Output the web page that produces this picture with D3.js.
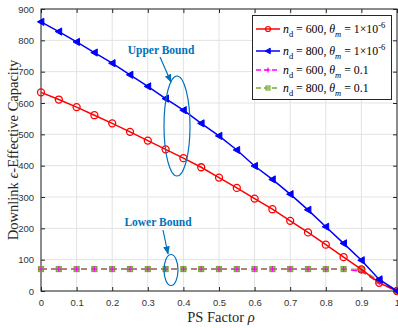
<!DOCTYPE html>
<html>
<head>
<meta charset="utf-8">
<script src="https://cdn.jsdelivr.net/npm/d3@7"></script>
<style>
  body { margin: 0; background: #fff; }
  svg { display: block; }
  .tick text { font-family: "Liberation Sans", Arial, sans-serif; font-size: 9.5px; fill: #333; }
</style>
</head>
<body>
<div id="chart"></div>
<script>
// PS factor values
var rho = [0, 0.05, 0.1, 0.15, 0.2, 0.25, 0.3, 0.35, 0.4, 0.45, 0.5, 0.55, 0.6, 0.65, 0.7, 0.75, 0.8, 0.85, 0.9, 0.95, 1];

// upper bound curves (theta = 1e-6)
var upper600 = [634, 611, 587, 561, 535, 508, 480, 452, 424, 395, 362, 329, 295, 261, 224, 187, 148, 108, 69, 26, 0];
var upper800 = [859, 828, 795, 761, 727, 690, 653, 614, 577, 535, 495, 450, 399, 356, 309, 259, 205, 152, 98, 37, 0];

// lower bound curves (theta = 0.1)
var lower600 = [70, 70, 70, 70, 70, 70, 70, 70, 70, 70, 70, 70, 70, 70, 70, 70, 70, 70, 63, 26, 0];
var lower800 = [70, 70, 70, 70, 70, 70, 70, 70, 70, 70, 70, 70, 70, 70, 70, 70, 70, 70, 69, 33, 0];

var xTicks = [0, 0.1, 0.2, 0.3, 0.4, 0.5, 0.6, 0.7, 0.8, 0.9, 1];
var yTicks = [0, 100, 200, 300, 400, 500, 600, 700, 800, 900];

var width = 398, height = 328;
var margin = {top: 9, right: 1, bottom: 37, left: 41};
var w = width - margin.left - margin.right;
var h = height - margin.top - margin.bottom;

var svg = d3.select("#chart").append("svg")
  .attr("width", width)
  .attr("height", height);

var x = d3.scaleLinear().domain([0, 1]).range([margin.left, margin.left + w]);
var y = d3.scaleLinear().domain([0, 900]).range([margin.top + h, margin.top]);

//grid
svg.append("g").selectAll("line").data(xTicks).enter().append("line")
  .attr("x1", d => x(d)).attr("x2", d => x(d))
  .attr("y1", y(0)).attr("y2", y(900))
  .attr("stroke", "#e3e3e3").attr("stroke-width", 1);
svg.append("g").selectAll("line").data(yTicks).enter().append("line")
  .attr("x1", x(0)).attr("x2", x(1))
  .attr("y1", d => y(d)).attr("y2", d => y(d))
  .attr("stroke", "#e3e3e3").attr("stroke-width", 1);

//axes (ticks inward, box on)
svg.append("g")
  .attr("transform", `translate(0,${y(0)})`)
  .call(d3.axisBottom(x).tickValues(xTicks).tickSize(-4).tickPadding(8).tickFormat(d3.format("")))
  .call(g => g.select(".domain").remove());
svg.append("g")
  .attr("transform", `translate(0,${y(900)})`)
  .call(d3.axisTop(x).tickValues(xTicks).tickSize(-4).tickFormat(""))
  .call(g => g.select(".domain").remove());
svg.append("g")
  .attr("transform", `translate(${x(0)},0)`)
  .call(d3.axisLeft(y).tickValues(yTicks).tickSize(-4).tickPadding(7))
  .call(g => g.select(".domain").remove());
svg.append("g")
  .attr("transform", `translate(${x(1)},0)`)
  .call(d3.axisRight(y).tickValues(yTicks).tickSize(-4).tickFormat(""))
  .call(g => g.select(".domain").remove());
svg.selectAll(".tick line").attr("stroke", "#262626");

svg.append("rect")
  .attr("x", x(0)).attr("y", y(900))
  .attr("width", x(1) - x(0)).attr("height", y(0) - y(900))
  .attr("fill", "none").attr("stroke", "#262626").attr("stroke-width", 1);

var line = d3.line().x((d, i) => x(rho[i])).y(d => y(d));

function trianglePath(cx, cy, s) {
  return `M${cx - s},${cy} L${cx + s * 0.8},${cy - s} L${cx + s * 0.8},${cy + s} Z`;
}

//lower bound n_d=600 (magenta, dashed, plus)
svg.append("path").datum(lower600)
  .attr("d", line).attr("fill", "none")
  .attr("stroke", "#ff00ff").attr("stroke-width", 1.5).attr("stroke-dasharray", "6,4");

//lower bound n_d=800 (green, dashed, squares)
svg.append("path").datum(lower800)
  .attr("d", line).attr("fill", "none")
  .attr("stroke", "#77ac30").attr("stroke-width", 1.5).attr("stroke-dasharray", "6,4")
  .attr("stroke-opacity", 0.8);

svg.append("g").selectAll("rect").data(lower800).enter().append("rect")
  .attr("x", (d, i) => x(rho[i]) - 2.5).attr("y", d => y(d) - 2.5)
  .attr("width", 5).attr("height", 5)
  .attr("fill", "#8fbf4a").attr("stroke", "#77ac30").attr("stroke-width", 1.2);

svg.append("g").selectAll("path").data(lower600).enter().append("path")
  .attr("d", (d, i) => `M${x(rho[i]) - 2.5},${y(d)} h5 M${x(rho[i])},${y(d) - 2.5} v5`)
  .attr("stroke", "#ff00ff").attr("stroke-width", 1.2);

//upper bound n_d=600 (red, circles)
svg.append("path").datum(upper600)
  .attr("d", line).attr("fill", "none")
  .attr("stroke", "#ff0000").attr("stroke-width", 1.5);
svg.append("g").selectAll("circle").data(upper600).enter().append("circle")
  .attr("cx", (d, i) => x(rho[i])).attr("cy", d => y(d)).attr("r", 3.5)
  .attr("fill", "none").attr("stroke", "#ff0000").attr("stroke-width", 1.3);

//upper bound n_d=800 (blue, left triangles)
svg.append("path").datum(upper800)
  .attr("d", line).attr("fill", "none")
  .attr("stroke", "#0000ff").attr("stroke-width", 1.5);
svg.append("g").selectAll("path").data(upper800).enter().append("path")
  .attr("d", (d, i) => trianglePath(x(rho[i]), y(d), 3.6))
  .attr("fill", "#0000ff").attr("stroke", "#0000ff").attr("stroke-width", 1);

//annotations
var annBlue = "#0072bd";
svg.append("defs").append("marker")
  .attr("id", "arrow").attr("viewBox", "0 0 10 10")
  .attr("refX", 9).attr("refY", 5)
  .attr("markerWidth", 7).attr("markerHeight", 7)
  .attr("orient", "auto")
  .append("path").attr("d", "M0,1 L10,5 L0,9 Z").attr("fill", annBlue);

svg.append("text")
  .attr("x", 161).attr("y", 54)
  .attr("text-anchor", "middle")
  .style("font-family", "Liberation Serif, Times New Roman, serif")
  .style("font-weight", "bold").style("font-size", "11.5px")
  .attr("fill", annBlue)
  .text("Upper Bound");
svg.append("line")
  .attr("x1", 160).attr("y1", 57).attr("x2", 171).attr("y2", 82)
  .attr("stroke", annBlue).attr("stroke-width", 1.2).attr("marker-end", "url(#arrow)");
svg.append("ellipse")
  .attr("cx", 177).attr("cy", 126).attr("rx", 13).attr("ry", 50)
  .attr("fill", "none").attr("stroke", annBlue).attr("stroke-width", 1.2);

svg.append("text")
  .attr("x", 158).attr("y", 226)
  .attr("text-anchor", "middle")
  .style("font-family", "Liberation Serif, Times New Roman, serif")
  .style("font-weight", "bold").style("font-size", "11.5px")
  .attr("fill", annBlue)
  .text("Lower Bound");
svg.append("line")
  .attr("x1", 163).attr("y1", 230).attr("x2", 168).attr("y2", 254)
  .attr("stroke", annBlue).attr("stroke-width", 1.2).attr("marker-end", "url(#arrow)");
svg.append("ellipse")
  .attr("cx", 171).attr("cy", 270).attr("rx", 7).attr("ry", 15.5)
  .attr("fill", "none").attr("stroke", annBlue).attr("stroke-width", 1.2);

//axis labels
var serif = "Liberation Serif, Times New Roman, serif";
var xl = svg.append("text")
  .attr("x", 221).attr("y", 322)
  .attr("text-anchor", "middle")
  .style("font-family", serif).style("font-size", "14.5px").attr("fill", "#262626");
xl.append("tspan").text("PS Factor ");
xl.append("tspan").style("font-style", "italic").text("ρ");

var yl = svg.append("text")
  .attr("transform", `translate(18,${(y(0) + y(900)) / 2}) rotate(-90)`)
  .attr("text-anchor", "middle")
  .style("font-family", serif).style("font-size", "14.5px").attr("fill", "#262626");
yl.append("tspan").text("Downlink ");
yl.append("tspan").style("font-style", "italic").text("ϵ");
yl.append("tspan").text("-Effective Capacity");

//legend
var legendItems = [
  {nd: "600", th: "1×10", sup: "-6", color: "#ff0000", dash: null, marker: "circle"},
  {nd: "800", th: "1×10", sup: "-6", color: "#0000ff", dash: null, marker: "tri"},
  {nd: "600", th: "0.1", sup: null, color: "#ff00ff", dash: "5,3", marker: "plus"},
  {nd: "800", th: "0.1", sup: null, color: "#77ac30", dash: "5,3", marker: "square"}
];
var legend = svg.append("g");
legend.append("rect")
  .attr("x", 252.5).attr("y", 15.5).attr("width", 139).attr("height", 84)
  .attr("fill", "#fff").attr("stroke", "#262626").attr("stroke-width", 1);

var ly = [29, 51, 70, 88];
legendItems.forEach(function (it, i) {
  var yy = ly[i];
  legend.append("line")
    .attr("x1", 256).attr("x2", 280).attr("y1", yy).attr("y2", yy)
    .attr("stroke", it.color).attr("stroke-width", 1.5)
    .attr("stroke-dasharray", it.dash);
  var mx = 268;
  if (it.marker == "circle") {
    legend.append("circle").attr("cx", mx).attr("cy", yy).attr("r", 2.5)
      .attr("fill", "none").attr("stroke", it.color).attr("stroke-width", 1.2);
  } else if (it.marker == "tri") {
    legend.append("path").attr("d", trianglePath(mx, yy, 2.8))
      .attr("fill", it.color).attr("stroke", it.color);
  } else if (it.marker == "plus") {
    legend.append("path").attr("d", `M${mx - 2.5},${yy} h5 M${mx},${yy - 2.5} v5`)
      .attr("stroke", it.color).attr("stroke-width", 1.2);
  } else {
    legend.append("rect").attr("x", mx - 2).attr("y", yy - 2).attr("width", 4).attr("height", 4)
      .attr("fill", "none").attr("stroke", it.color).attr("stroke-width", 1.2);
  }
  var t = legend.append("text")
    .attr("x", 283).attr("y", yy + 4)
    .style("font-family", serif).style("font-size", "11.8px").attr("fill", "#000");
  t.append("tspan").style("font-style", "italic").text("n");
  t.append("tspan").attr("dy", 4).style("font-size", "8.5px").text("d");
  t.append("tspan").attr("dy", -4).text(" = " + it.nd + ", ");
  t.append("tspan").style("font-style", "italic").text("θ");
  t.append("tspan").attr("dy", 4).style("font-size", "8.5px").style("font-style", "italic").text("m");
  t.append("tspan").attr("dy", -4).text(" = " + it.th);
  if (it.sup) {
    t.append("tspan").attr("dy", -5).style("font-size", "8.5px").text(it.sup);
  }
});
</script>
</body>
</html>
